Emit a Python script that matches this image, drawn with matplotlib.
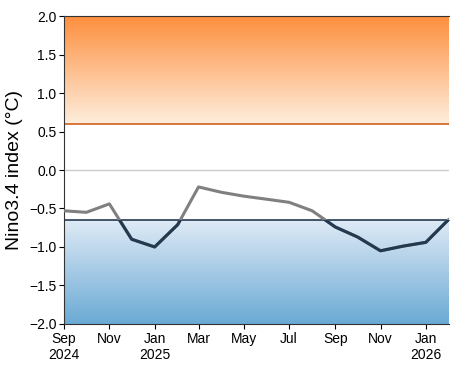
import numpy as np
import pandas as pd
import matplotlib
matplotlib.use('Agg')
import matplotlib.pyplot as plt
import matplotlib.dates as mdates
from matplotlib.colors import LinearSegmentedColormap
from matplotlib.patches import Rectangle

plt.rcParams['font.family'] = ['Liberation Sans', 'DejaVu Sans']

# monthly Nino3.4 values, Sep 2024 .. Feb 2026
months = pd.date_range('2024-09-01', periods=18, freq='MS')
nino34 = [-0.53, -0.55, -0.44, -0.90, -1.00, -0.71, -0.22, -0.29, -0.34,
          -0.38, -0.42, -0.53, -0.74, -0.87, -1.05, -0.99, -0.94, -0.64]
el_nino_thr = 0.6
la_nina_thr = -0.65
tick_labels = ['Sep\n2024', 'Nov', 'Jan\n2025', 'Mar', 'May', 'Jul', 'Sep', 'Nov', 'Jan\n2026']

fig = plt.figure(figsize=(4.71, 3.66), dpi=100)
ax = fig.add_axes([0.136, 0.115, 0.817, 0.841])

x0 = mdates.date2num(months[0])
x1 = mdates.date2num(months[-1])

# gradient bands
grad = np.linspace(0, 1, 256).reshape(-1, 1)
oranges = LinearSegmentedColormap.from_list('o', ['#feeedd', '#fd8f3e'])
blues = LinearSegmentedColormap.from_list('b', ['#6aaad4', '#dfeaf6'])
ax.imshow(grad, cmap=oranges, origin='lower', aspect='auto',
          extent=[x0, x1, el_nino_thr, 2.0], zorder=0)
ax.imshow(grad, cmap=blues, origin='lower', aspect='auto',
          extent=[x0, x1, -2.0, la_nina_thr], zorder=0)

ax.axhline(0, color='#cccccc', lw=1, zorder=1)
ax.axhline(el_nino_thr, color='#d2601a', lw=1.2, zorder=2)
ax.axhline(la_nina_thr, color='#24394f', lw=1.2, zorder=2)

# gray above threshold, navy below
ax.plot(months, nino34, color='#808080', lw=2.2, zorder=3,
        solid_capstyle='round', solid_joinstyle='round')
navy, = ax.plot(months, nino34, color='#22394f', lw=2.2, zorder=4,
                solid_capstyle='round', solid_joinstyle='round')
clip = Rectangle((x0 - 100, -3), x1 - x0 + 200, 3 + la_nina_thr,
                 transform=ax.transData)
navy.set_clip_path(clip)

ax.set_xlim(x0, x1)
ax.set_ylim(-2.0, 2.0)
ax.set_yticks(np.arange(-2.0, 2.01, 0.5))
ax.set_xticks(months[::2])
ax.set_xticklabels(tick_labels)
ax.tick_params(labelsize=10, pad=2)
ax.set_ylabel('Nino3.4 index (°C)', fontsize=14)
ax.spines['right'].set_visible(False)
for s in ['top', 'left', 'bottom']:
    ax.spines[s].set_color('#333333')

fig.savefig('out.png', dpi=100)
